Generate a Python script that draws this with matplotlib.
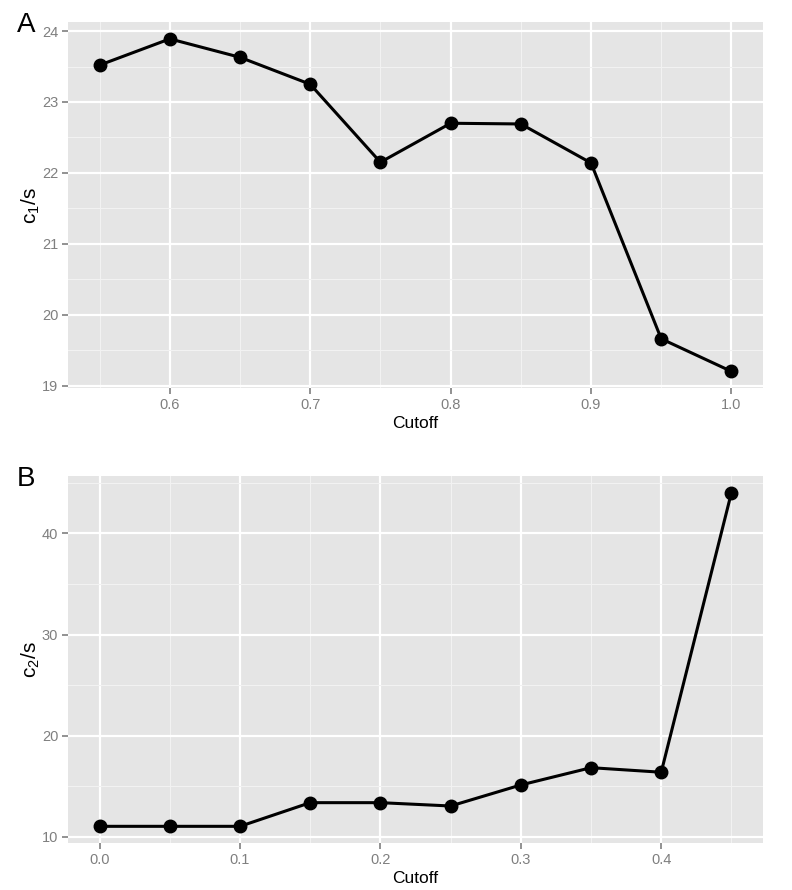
import numpy as np
import matplotlib.pyplot as plt
from matplotlib.ticker import MultipleLocator, FormatStrFormatter

plt.rcParams['font.family'] = ['Liberation Sans', 'DejaVu Sans']

# ---------- Data ----------

cutoff_a = [0.55, 0.60, 0.65, 0.70, 0.75, 0.80, 0.85, 0.90, 0.95, 1.00]
c1_s = [23.52, 23.89, 23.63, 23.25, 22.15, 22.70, 22.69, 22.14, 19.66, 19.20]

cutoff_b = [0.00, 0.05, 0.10, 0.15, 0.20, 0.25, 0.30, 0.35, 0.40, 0.45]
c2_s = [11.03, 11.03, 11.03, 13.37, 13.37, 13.04, 15.12, 16.83, 16.38, 44.03]


# ---------- ggplot-like panel ----------

def expand(vals, frac=0.05):
    lo, hi = min(vals), max(vals)
    pad = (hi - lo) * frac
    return lo - pad, hi + pad


def gg_panel(ax, x, y, xmajor, ymajor, ylabel):
    ax.set_facecolor('#E5E5E5')
    for s in ax.spines.values():
        s.set_visible(False)

    ax.set_xlim(*expand(x))
    ax.set_ylim(*expand(y))

    ax.xaxis.set_major_locator(MultipleLocator(xmajor))
    ax.xaxis.set_minor_locator(MultipleLocator(xmajor / 2))
    ax.yaxis.set_major_locator(MultipleLocator(ymajor))
    ax.yaxis.set_minor_locator(MultipleLocator(ymajor / 2))
    ax.xaxis.set_major_formatter(FormatStrFormatter('%.1f'))
    ax.yaxis.set_major_formatter(FormatStrFormatter('%d'))

    ax.grid(which='minor', color='#F2F2F2', linewidth=0.8)
    ax.grid(which='major', color='white', linewidth=1.6)
    ax.set_axisbelow(True)

    ax.tick_params(which='major', direction='out', length=4, width=1.2,
                   color='#7F7F7F', labelcolor='#7F7F7F', labelsize=10.5, pad=3)
    ax.tick_params(which='minor', length=0)

    ax.plot(x, y, color='black', linewidth=2.2, marker='o',
            markersize=9, zorder=3)

    ax.set_xlabel('Cutoff', fontsize=12.5, labelpad=3)
    ax.set_ylabel(ylabel, fontsize=15, labelpad=0)


fig = plt.figure(figsize=(7.92, 8.90), dpi=100)

ax1 = fig.add_axes([0.0859, 0.564, 0.8775, 0.411])
gg_panel(ax1, cutoff_a, c1_s, 0.1, 1, r'$\mathregular{c_1/s}$')

ax2 = fig.add_axes([0.0859, 0.0528, 0.8775, 0.4124])
gg_panel(ax2, cutoff_b, c2_s, 0.1, 10, r'$\mathregular{c_2/s}$')

fig.text(0.021, 0.964, 'A', fontsize=20, va='baseline', ha='left')
fig.text(0.021, 0.454, 'B', fontsize=20, va='baseline', ha='left')

fig.savefig('out.png', dpi=100)
